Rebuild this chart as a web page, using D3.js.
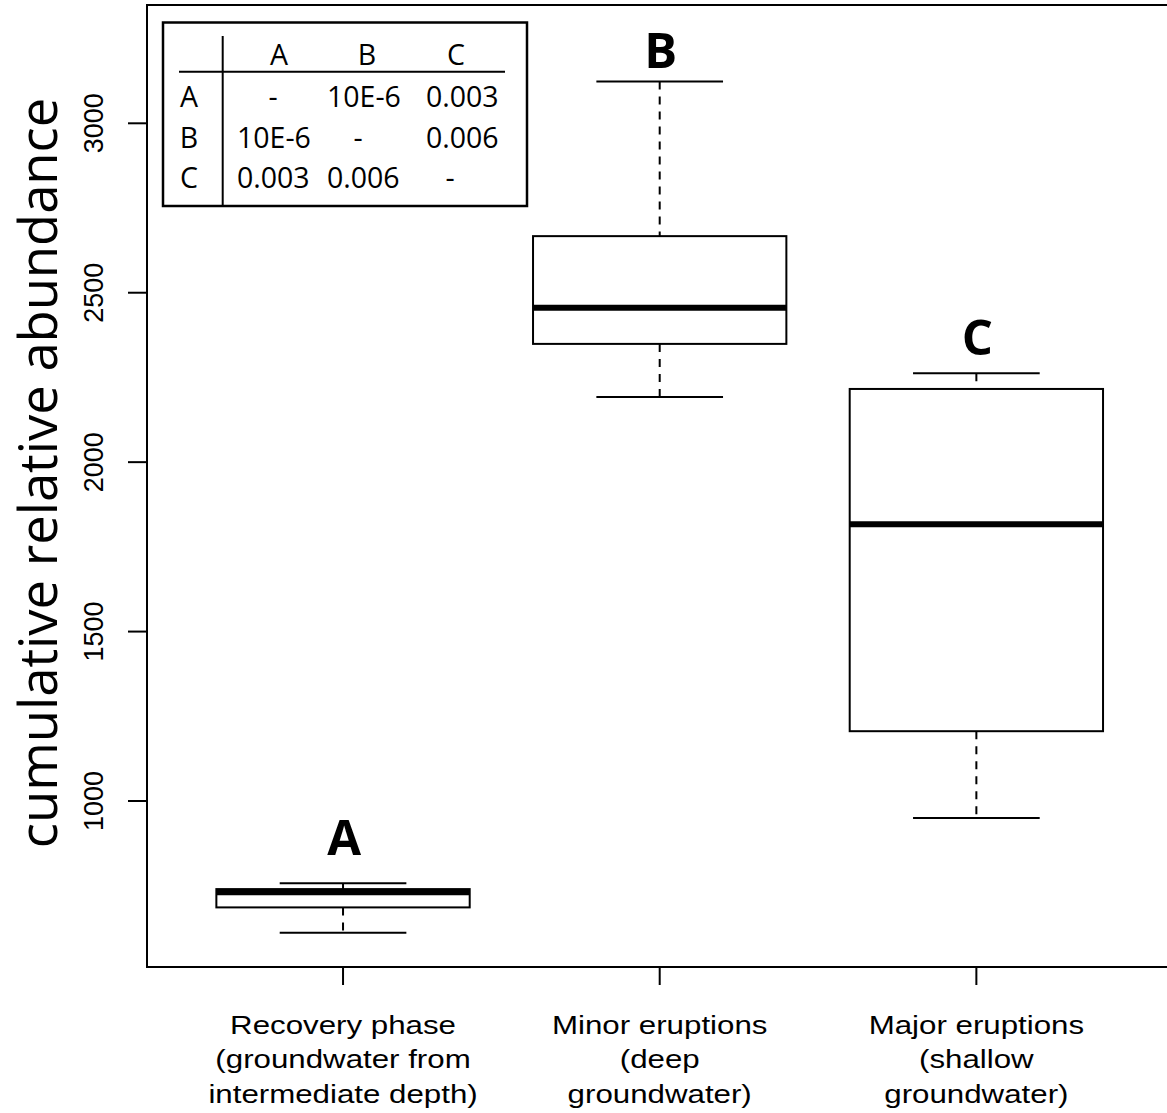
<!DOCTYPE html>
<html>
<head>
<meta charset="utf-8">
<script src="https://cdn.jsdelivr.net/npm/d3@7/dist/d3.min.js"></script>
<style>
  html, body { margin: 0; padding: 0; background: #fff; }
  svg { display: block; }
</style>
</head>
<body>
<svg id="chart" width="1167" height="1113"></svg>
<script>
// Groups and their multi-line axis labels
const groupIds = ["recovery", "minor", "major"];
const groupLabels = [
  ["Recovery phase", "(groundwater from", "intermediate depth)"],
  ["Minor eruptions", "(deep", "groundwater)"],
  ["Major eruptions", "(shallow", "groundwater)"]
];
// Significance letters shown above each box
const groupLetters = ["A", "B", "C"];

// Five-number summaries (cumulative relative abundance)
const whiskerLow  = [611, 2192, 950];
const quartile1   = [686, 2349, 1206];
const medians     = [731, 2456, 1817];
const quartile3   = [740, 2667, 2216];
const whiskerHigh = [757, 3123, 2262];

// Y axis ticks
const yTicks = [1000, 1500, 2000, 2500, 3000];

// Pairwise p-value table
const tableHeaders = ["A", "B", "C"];
const tableCells = [
  ["-", "10E-6", "0.003"],
  ["10E-6", "-", "0.006"],
  ["0.003", "0.006", "-"]
];

const svg = d3.select("#chart");

// Plot frame geometry
const frame = { left: 147, top: 5, bottom: 967, right: 1200 };

const x = d3.scaleBand()
  .domain(groupIds)
  .range([184.7, 1134.7])
  .paddingInner(0)
  .paddingOuter(0);

const y = d3.scaleLinear()
  .domain([1000, 3000])
  .range([801, 123.3]);

const boxW = x.bandwidth() * 0.8;
const capW = boxW / 2;
const cx = id => x(id) + x.bandwidth() / 2;

// Frame (open on the right, runs past the page edge)
svg.append("rect")
  .attr("x", frame.left).attr("y", frame.top)
  .attr("width", frame.right - frame.left)
  .attr("height", frame.bottom - frame.top)
  .attr("fill", "none").attr("stroke", "#000").attr("stroke-width", 2);

// Y axis ticks and rotated labels
const yAxis = svg.append("g");
yTicks.forEach(t => {
  yAxis.append("line")
    .attr("x1", frame.left).attr("x2", frame.left - 19)
    .attr("y1", y(t)).attr("y2", y(t))
    .attr("stroke", "#000").attr("stroke-width", 2);
  yAxis.append("text")
    .attr("transform", `translate(103,${y(t)}) rotate(-90)`)
    .attr("text-anchor", "middle")
    .attr("font-family", "'Liberation Sans', Arial, Helvetica, sans-serif")
    .attr("font-size", 27)
    .attr("fill", "#000")
    .text(d3.format("d")(t));
});

// Y axis title
svg.append("text")
  .attr("transform", "translate(57,473) rotate(-90)")
  .attr("text-anchor", "middle")
  .attr("font-family", "'Open Sans', sans-serif")
  .attr("font-size", 52.5)
  .attr("fill", "#000")
  .text("cumulative relative abundance");

// X axis ticks and labels
const xAxis = svg.append("g");
groupIds.forEach((id, i) => {
  xAxis.append("line")
    .attr("x1", cx(id)).attr("x2", cx(id))
    .attr("y1", frame.bottom).attr("y2", frame.bottom + 18)
    .attr("stroke", "#000").attr("stroke-width", 2);
  const g = xAxis.append("g")
    .attr("transform", `translate(${cx(id)},0) scale(1.18,1)`);
  groupLabels[i].forEach((line, k) => {
    g.append("text")
      .attr("x", 0).attr("y", 1034 + k * 34.5)
      .attr("text-anchor", "middle")
      .attr("font-family", "'Liberation Sans', Arial, Helvetica, sans-serif")
      .attr("font-size", 26.5)
      .attr("fill", "#000")
      .text(line);
  });
});

// Boxes
const boxes = svg.append("g");
groupIds.forEach((id, i) => {
  const c = cx(id);
  const g = boxes.append("g");
  // dashed whiskers
  g.append("line")
    .attr("x1", c).attr("x2", c)
    .attr("y1", y(whiskerHigh[i])).attr("y2", y(quartile3[i]))
    .attr("stroke", "#000").attr("stroke-width", 2)
    .attr("stroke-dasharray", "8,7");
  g.append("line")
    .attr("x1", c).attr("x2", c)
    .attr("y1", y(quartile1[i])).attr("y2", y(whiskerLow[i]))
    .attr("stroke", "#000").attr("stroke-width", 2)
    .attr("stroke-dasharray", "8,7");
  // whisker caps
  [whiskerHigh[i], whiskerLow[i]].forEach(v => {
    g.append("line")
      .attr("x1", c - capW / 2).attr("x2", c + capW / 2)
      .attr("y1", y(v)).attr("y2", y(v))
      .attr("stroke", "#000").attr("stroke-width", 2);
  });
  // box
  g.append("rect")
    .attr("x", c - boxW / 2).attr("y", y(quartile3[i]))
    .attr("width", boxW).attr("height", y(quartile1[i]) - y(quartile3[i]))
    .attr("fill", "#fff").attr("stroke", "#000").attr("stroke-width", 2);
  // median
  g.append("line")
    .attr("x1", c - boxW / 2).attr("x2", c + boxW / 2)
    .attr("y1", y(medians[i])).attr("y2", y(medians[i]))
    .attr("stroke", "#000").attr("stroke-width", 6);
});

// Group letters above the upper whiskers
const letterGap = [28, 14, 18];
groupIds.forEach((id, i) => {
  svg.append("text")
    .attr("x", cx(id) + 1)
    .attr("y", y(whiskerHigh[i]) - letterGap[i])
    .attr("text-anchor", "middle")
    .attr("font-family", "'Open Sans', sans-serif")
    .attr("font-weight", 700)
    .attr("font-size", 49)
    .attr("fill", "#000")
    .text(groupLetters[i]);
});

// Pairwise p-value table in the top-left corner
const tbl = svg.append("g");
const tFont = "'Open Sans', sans-serif";
const tSize = 28.5;
tbl.append("rect")
  .attr("x", 163).attr("y", 22.5)
  .attr("width", 364).attr("height", 183.5)
  .attr("fill", "#fff").attr("stroke", "#000").attr("stroke-width", 2.5);
tbl.append("line")
  .attr("x1", 222.7).attr("x2", 222.7).attr("y1", 36).attr("y2", 206)
  .attr("stroke", "#000").attr("stroke-width", 2);
tbl.append("line")
  .attr("x1", 179).attr("x2", 505).attr("y1", 71.7).attr("y2", 71.7)
  .attr("stroke", "#000").attr("stroke-width", 2);

const headerX = [279, 367, 456];
const rowBaselines = [106.5, 147.5, 188];
const valueStartX = [237, 327, 426];
const dashX = [273, 358, 450];

tableHeaders.forEach((h, j) => {
  tbl.append("text")
    .attr("x", headerX[j]).attr("y", 64.5)
    .attr("text-anchor", "middle")
    .attr("font-family", tFont).attr("font-size", tSize).attr("fill", "#000")
    .text(h);
});
tableHeaders.forEach((h, r) => {
  tbl.append("text")
    .attr("x", 189).attr("y", rowBaselines[r])
    .attr("text-anchor", "middle")
    .attr("font-family", tFont).attr("font-size", tSize).attr("fill", "#000")
    .text(h);
  tableCells[r].forEach((cell, j) => {
    const isDash = cell === "-";
    tbl.append("text")
      .attr("x", isDash ? dashX[j] : valueStartX[j])
      .attr("y", rowBaselines[r])
      .attr("text-anchor", isDash ? "middle" : "start")
      .attr("font-family", tFont).attr("font-size", tSize).attr("fill", "#000")
      .text(cell);
  });
});
</script>
</body>
</html>
